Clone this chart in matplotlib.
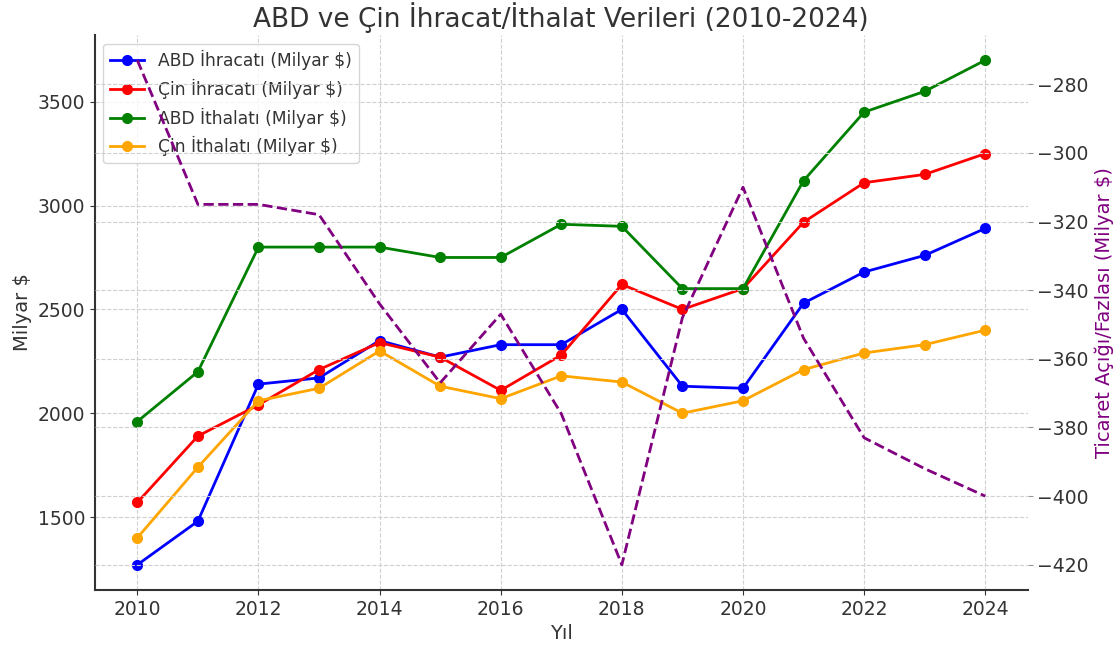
import matplotlib
matplotlib.use("Agg")
import matplotlib.pyplot as plt

years = list(range(2010, 2025))
abd_ihracat = [1270, 1480, 2140, 2170, 2350, 2270, 2330, 2330, 2500, 2130, 2120, 2530, 2680, 2760, 2890]
cin_ihracat = [1570, 1890, 2040, 2210, 2340, 2270, 2110, 2280, 2620, 2500, 2600, 2920, 3110, 3150, 3250]
abd_ithalat = [1960, 2200, 2800, 2800, 2800, 2750, 2750, 2910, 2900, 2600, 2600, 3120, 3450, 3550, 3700]
cin_ithalat = [1400, 1740, 2060, 2120, 2300, 2130, 2070, 2180, 2150, 2000, 2060, 2210, 2290, 2330, 2400]
ticaret_acigi = [-273, -315, -315, -318, -344, -367, -347, -376, -420, -348, -310, -354, -383, -392, -400]

text_color = "#333333"
plt.rcParams["text.color"] = text_color
plt.rcParams["axes.labelcolor"] = text_color
plt.rcParams["xtick.color"] = text_color
plt.rcParams["ytick.color"] = text_color

fig, ax1 = plt.subplots(figsize=(11.17, 6.48), dpi=100)
fig.subplots_adjust(left=0.085, right=0.92, top=0.946, bottom=0.0895)

ax1.plot(years, abd_ihracat, "o-", color="blue", lw=2, ms=7, label="ABD İhracatı (Milyar $)")
ax1.plot(years, cin_ihracat, "o-", color="red", lw=2, ms=7, label="Çin İhracatı (Milyar $)")
ax1.plot(years, abd_ithalat, "o-", color="green", lw=2, ms=7, label="ABD İthalatı (Milyar $)")
ax1.plot(years, cin_ithalat, "o-", color="orange", lw=2, ms=7, label="Çin İthalatı (Milyar $)")

ax1.set_xlabel("Yıl", fontsize=14)
ax1.set_ylabel("Milyar $", fontsize=14)
ax1.set_title("ABD ve Çin İhracat/İthalat Verileri (2010-2024)", fontsize=19)
ax1.tick_params(labelsize=13.5)
ax1.grid(True, ls="--", color="#d0d0d0", lw=0.8)
ax1.legend(loc="upper left", fontsize=12.3, edgecolor="#cccccc")
for s in ("top", "right"):
    ax1.spines[s].set_visible(False)
for s in ("left", "bottom"):
    ax1.spines[s].set_linewidth(1.5)
    ax1.spines[s].set_color("#333333")

# ikinci eksen: ticaret acigi
ax2 = ax1.twinx()
ax2.plot(years, ticaret_acigi, "--", color="purple", lw=2, label="Ticaret Açığı/Fazlası (Milyar $)")
ax2.set_ylabel("Ticaret Açığı/Fazlası (Milyar $)", color="purple", fontsize=14)
ax2.tick_params(labelsize=13.5, color="#999999")
ax2.grid(True, ls="--", color="#d0d0d0", lw=0.8)
for s in ("top", "right", "left", "bottom"):
    ax2.spines[s].set_visible(False)

ax1.set_xticks(range(2010, 2025, 2))

fig.savefig("out.png", dpi=100)
